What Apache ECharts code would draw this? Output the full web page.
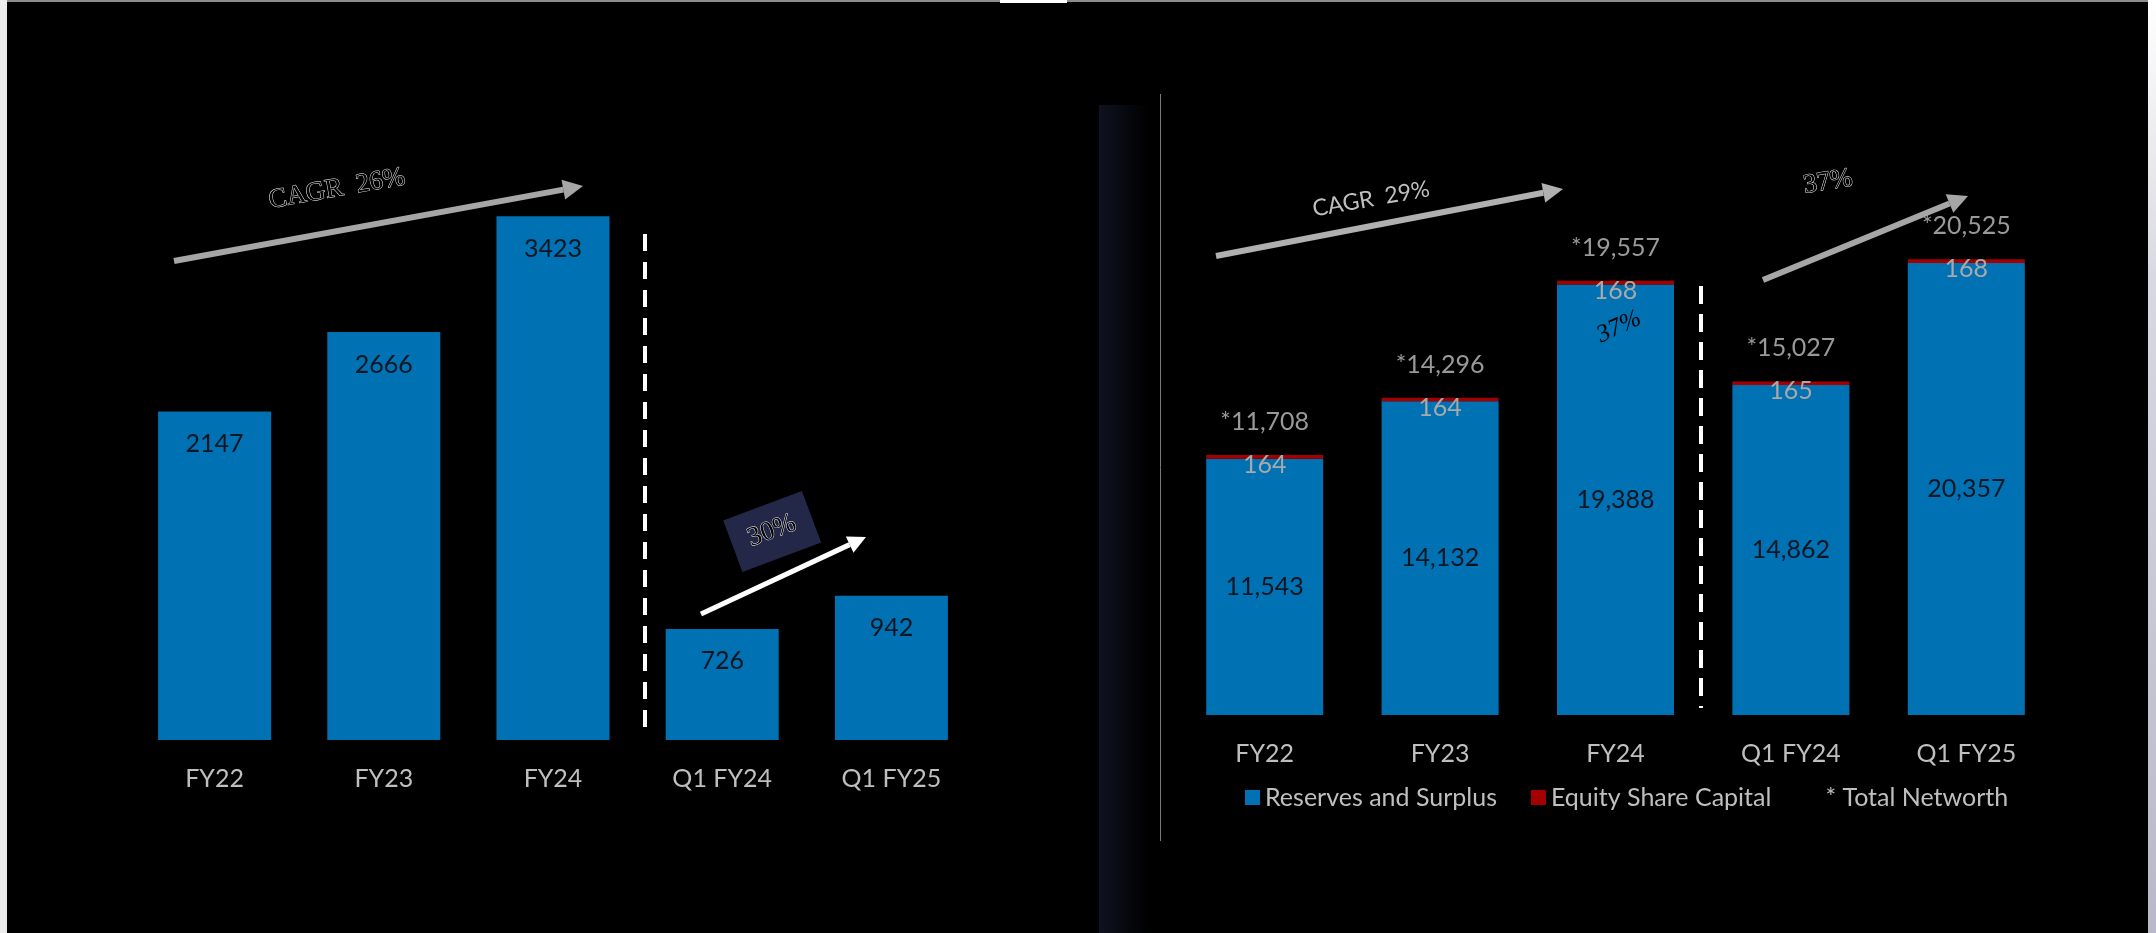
<!DOCTYPE html>
<html>
<head>
<meta charset="utf-8">
<script src="https://cdn.jsdelivr.net/npm/echarts@6/dist/echarts.min.js"></script>
<style>
  html, body { margin: 0; padding: 0; background: #000; }
  #chart { width: 2156px; height: 933px; }
</style>
</head>
<body>
<div id="chart"></div>
<script>
const categories = ['FY22', 'FY23', 'FY24', 'Q1 FY24', 'Q1 FY25'];
const profitValues = [2147, 2666, 3423, 726, 942];
const reservesValues = [11543, 14132, 19388, 14862, 20357];
const equityValues = [164, 164, 168, 165, 168];
const totalValues = [11708, 14296, 19557, 15027, 20525];

const sans = 'Lato, "Open Sans", sans-serif';
const serif = '"Liberation Serif", "DejaVu Serif", serif';
const blue = '#0071b2';
const red = '#a50000';
const grey = '#bfbfbf';

const fmt = v => Number(v).toLocaleString('en-US');

// arrow = shaft + triangular head
function arrow(x1, y1, x2, y2, color, w, hl, hw) {
  const a = Math.atan2(y2 - y1, x2 - x1);
  const bx = x2 - hl * Math.cos(a), by = y2 - hl * Math.sin(a);
  const nx = -Math.sin(a) * hw / 2, ny = Math.cos(a) * hw / 2;
  return [
    { type: 'line', z: 100, shape: { x1: x1, y1: y1, x2: bx, y2: by }, style: { stroke: color, lineWidth: w } },
    { type: 'polygon', z: 100, shape: { points: [[x2, y2], [bx + nx, by + ny], [bx - nx, by - ny]] }, style: { fill: color } }
  ];
}

function note(text, x, y, deg, style) {
  return {
    type: 'text', z: 101, x: x, y: y, rotation: deg * Math.PI / 180,
    style: Object.assign({ text: text, align: 'center', verticalAlign: 'middle' }, style)
  };
}

const outlined = { fill: '#000', stroke: '#f4f4f4', lineWidth: 0.9, font: '27px ' + serif };

const graphics = [
  // frame bits
  { type: 'rect', z: 0, shape: { x: 0, y: 0, width: 7, height: 933 }, style: { fill: '#ececec' } },
  { type: 'rect', z: 0, shape: { x: 2148, y: 0, width: 8, height: 933 },
    style: { fill: new echarts.graphic.LinearGradient(0, 0, 0, 1, [{ offset: 0, color: '#ffffff' }, { offset: 0.3, color: '#d8d8e0' }, { offset: 1, color: '#b8b8c8' }]) } },
  { type: 'rect', z: 0, shape: { x: 7, y: 0, width: 2141, height: 2 }, style: { fill: '#8c8c8c' } },
  { type: 'rect', z: 0, shape: { x: 1000, y: 0, width: 67, height: 3 }, style: { fill: '#ffffff' } },
  { type: 'rect', z: 0, shape: { x: 1099, y: 105, width: 50, height: 828 },
    style: { fill: new echarts.graphic.LinearGradient(0, 0, 1, 0, [{ offset: 0, color: '#0f1220' }, { offset: 1, color: '#000' }]) } },
  { type: 'line', z: 0, shape: { x1: 1160.5, y1: 94, x2: 1160.5, y2: 841 }, style: { stroke: '#7a7a7a', lineWidth: 1 } },

  // separators
  { type: 'line', z: 100, shape: { x1: 645, y1: 234, x2: 645, y2: 738 }, style: { stroke: '#fff', lineWidth: 4, lineDash: [17, 11] } },
  { type: 'line', z: 100, shape: { x1: 1701, y1: 286, x2: 1701, y2: 708 }, style: { stroke: '#fff', lineWidth: 4, lineDash: [18, 10] } },

  // left annotations
  ...arrow(174, 261, 583, 186, '#a6a6a6', 6, 20, 20),
  note('CAGR  26%', 337, 189, 10, outlined),
  { type: 'rect', z: 100, x: 772, y: 531, rotation: 20.5 * Math.PI / 180,
    shape: { x: -42, y: -27, width: 84, height: 55 }, style: { fill: '#232848' } },
  note('30%', 772, 531, 20.5, outlined),
  ...arrow(701, 614, 866, 537, '#ffffff', 5, 18, 18),

  // right annotations
  ...arrow(1216, 256, 1563, 189, '#b0b0b0', 6, 20, 20),
  note('CAGR  29%', 1371, 199, 10, { fill: grey, font: '23px ' + sans }),
  ...arrow(1763, 280, 1968, 196, '#a6a6a6', 6, 20, 20),
  note('37%', 1828, 182, 9, outlined),
  note('37%', 1619, 327, 25, { fill: '#000', font: 'italic 25px ' + serif })
];

const chart = echarts.init(document.getElementById('chart'));

chart.setOption({
  backgroundColor: '#000',
  animation: false,
  textStyle: { fontFamily: sans },
  grid: [
    { left: 130, top: 128, width: 846, height: 612 },
    { left: 1177, top: 160, width: 877, height: 555 }
  ],
  xAxis: [0, 1].map(i => ({
    type: 'category',
    gridIndex: i,
    data: categories,
    axisLine: { show: false },
    axisTick: { show: false },
    axisLabel: { color: grey, fontSize: 25, margin: 26, fontFamily: sans }
  })),
  yAxis: [
    { type: 'value', gridIndex: 0, min: 0, max: 4000, show: false },
    { type: 'value', gridIndex: 1, min: 0, max: 25000, show: false }
  ],
  legend: {
    left: 1240,
    top: 780,
    itemWidth: 15,
    itemHeight: 15,
    itemGap: 34,
    selectedMode: false,
    textStyle: { color: grey, fontSize: 25, fontFamily: sans },
    data: [
      { name: 'Reserves and Surplus', icon: 'rect' },
      { name: 'Equity Share Capital', icon: 'rect' },
      { name: '* Total Networth', icon: 'none' }
    ]
  },
  series: [
    {
      name: 'Profit',
      type: 'bar',
      xAxisIndex: 0,
      yAxisIndex: 0,
      data: profitValues,
      barWidth: 113,
      itemStyle: { color: blue },
      label: { show: true, position: 'insideTop', distance: 20, color: '#0b1622', fontSize: 25, fontFamily: sans }
    },
    {
      name: 'Reserves and Surplus',
      type: 'bar',
      stack: 'nw',
      xAxisIndex: 1,
      yAxisIndex: 1,
      data: reservesValues,
      barWidth: 117,
      itemStyle: { color: blue },
      label: { show: true, position: 'inside', color: '#0b1622', fontSize: 25, fontFamily: sans, formatter: p => fmt(p.value) }
    },
    {
      name: 'Equity Share Capital',
      type: 'bar',
      stack: 'nw',
      xAxisIndex: 1,
      yAxisIndex: 1,
      data: equityValues,
      barWidth: 117,
      itemStyle: { color: red },
      label: { show: true, position: 'inside', offset: [0, 8], color: '#a9a9a9', fontSize: 25, fontFamily: sans }
    },
    {
      name: '* Total Networth',
      type: 'scatter',
      xAxisIndex: 1,
      yAxisIndex: 1,
      data: totalValues,
      symbolSize: 1,
      itemStyle: { color: 'rgba(0,0,0,0)' },
      label: { show: true, position: 'top', distance: 20, color: grey, fontSize: 25, fontFamily: sans, formatter: p => '*' + fmt(p.value) }
    }
  ],
  graphic: graphics
});
</script>
</body>
</html>
